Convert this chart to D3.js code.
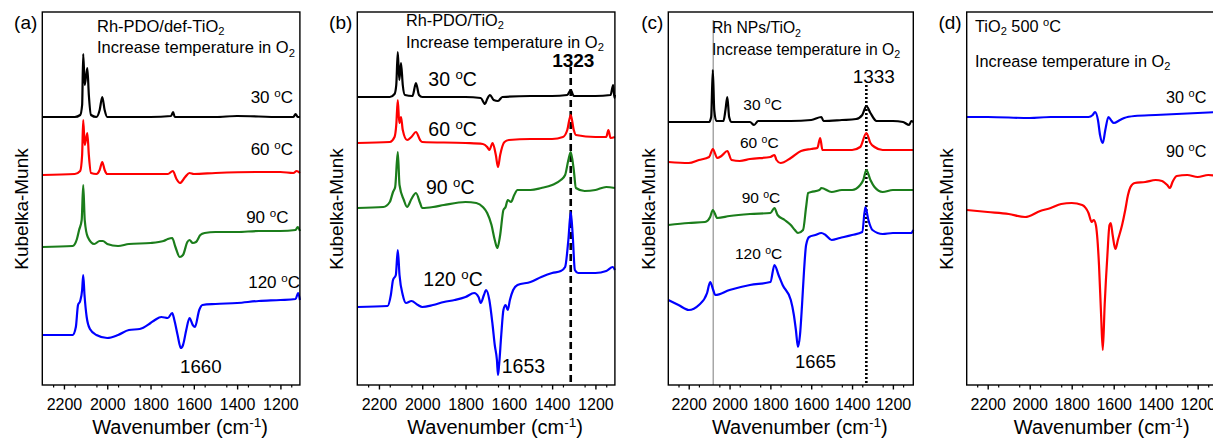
<!DOCTYPE html>
<html>
<head>
<meta charset="utf-8">
<script src="https://cdn.jsdelivr.net/npm/d3@7"></script>
<style>
  body { margin: 0; background: #fff; }
  svg { display: block; }
  text { font-family: Arial, "Liberation Sans", sans-serif; fill: #000; }
</style>
</head>
<body>
<div id="chart"></div>
<script>

// tick values (wavenumber, cm-1)
const majorTicks = [2200, 2000, 1800, 1600, 1400, 1200];
const minorTicks = [2250, 2150, 2050, 1950, 1850, 1750, 1650, 1550, 1450, 1350, 1250, 1150];

// spectra: [wavenumber, Kubelka-Munk (a.u., stacked)]
// (a) Rh-PDO/def-TiO2
const a30 = [[2300,268],[2150,268],[2125,270],[2116,280],[2111,331],[2104,300],[2092,317],[2085,290],[2075,270],[2050,268],[2035,275],[2023,288],[2012,275],[2000,268],[1800,268],[1705,269],[1696,273],[1688,268],[1500,268],[1400,269],[1200,268],[1140,268],[1130,271],[1120,268],[1110,268]];
const a60 = [[2300,210],[2150,211],[2125,214],[2116,230],[2111,265],[2104,240],[2092,252],[2085,230],[2075,212],[2050,211],[2035,215],[2023,223],[2012,215],[2000,211],[1800,211],[1720,211],[1697,214],[1680,206],[1664,202],[1640,208],[1620,212],[1600,211],[1500,212],[1300,213],[1200,213],[1140,212],[1125,214],[1110,212]];
const a90 = [[2300,138],[2160,139],[2140,146],[2130,155],[2118,165],[2111,200],[2104,165],[2090,148],[2060,141],[2035,144],[2020,144],[2000,141],[1950,139],[1900,141],[1800,142],[1740,144],[1720,146],[1700,147],[1685,138],[1665,128],[1650,130],[1630,143],[1620,145],[1605,142],[1590,143],[1570,150],[1550,152],[1500,153],[1400,153],[1300,154],[1200,154],[1130,155],[1120,158],[1110,154]];
const a120 = [[2300,50],[2160,50],[2145,58],[2135,80],[2125,84],[2116,95],[2111,110],[2105,90],[2095,68],[2080,56],[2050,50],[2000,47],[1950,50],[1900,55],[1850,56],[1800,62],[1780,65],[1750,68],[1720,67],[1700,72],[1690,65],[1675,50],[1660,37],[1650,40],[1635,55],[1620,67],[1605,60],[1595,58],[1575,75],[1560,80],[1500,81],[1400,82],[1300,84],[1200,85],[1130,86],[1118,92],[1110,85]];

// (b) Rh-PDO/TiO2
const b30 = [[2300,288],[2150,288],[2128,291],[2120,300],[2113,333],[2106,305],[2098,322],[2090,300],[2080,290],[2045,289],[2029,302],[2015,290],[2000,288],[1800,288],[1730,287],[1710,281],[1700,286],[1687,290],[1670,285],[1650,284],[1630,288],[1500,289],[1400,289],[1330,290],[1314,295],[1300,289],[1200,289],[1130,290],[1118,300],[1112,287],[1110,290]];
const b60 = [[2300,242],[2150,243],[2128,248],[2120,260],[2113,285],[2106,262],[2098,268],[2090,255],[2070,245],[2050,248],[2029,253],[2010,245],[2000,243],[1800,242],[1720,241],[1700,238],[1690,235],[1675,242],[1660,230],[1650,218],[1640,230],[1620,243],[1600,245],[1500,246],[1400,246],[1350,248],[1330,255],[1314,270],[1300,255],[1290,250],[1200,248],[1150,248],[1140,255],[1130,247],[1110,248]];
const b90 = [[2300,177],[2180,178],[2150,183],[2135,193],[2125,198],[2113,233],[2105,200],[2085,185],[2070,178],[2050,186],[2029,192],[2010,182],[2000,177],[1950,178],[1900,180],[1800,183],[1750,182],[1720,178],[1700,172],[1680,160],[1665,145],[1653,137],[1640,150],[1625,175],[1615,178],[1605,185],[1590,183],[1575,190],[1560,195],[1500,195],[1450,197],[1400,200],[1360,205],[1340,210],[1325,225],[1314,233],[1300,215],[1290,197],[1250,194],[1200,195],[1150,198],[1110,197]];
const b120 = [[2300,78],[2160,79],[2145,90],[2135,105],[2122,110],[2113,135],[2105,110],[2090,90],[2075,82],[2050,84],[2020,80],[2000,78],[1950,80],[1900,83],[1850,85],[1800,88],[1760,92],[1740,88],[1730,82],[1715,90],[1705,95],[1690,85],[1675,60],[1665,40],[1655,25],[1650,10],[1645,20],[1635,50],[1625,75],[1615,80],[1605,75],[1595,85],[1580,95],[1560,100],[1500,103],[1450,108],[1400,112],[1360,114],[1340,118],[1325,145],[1314,173],[1305,150],[1295,115],[1280,112],[1200,112],[1150,114],[1120,118],[1110,115]];

// (c) Rh NPs/TiO2
const c30 = [[2300,263],[2100,263],[2090,268],[2082,315],[2075,275],[2065,264],[2030,264],[2020,275],[2011,288],[2002,268],[1990,263],[1900,263],[1880,260],[1860,264],[1700,264],[1600,265],[1550,268],[1540,264],[1450,265],[1380,266],[1350,270],[1330,279],[1310,272],[1280,264],[1200,264],[1150,263],[1120,260],[1110,264],[1100,263]];
const c60 = [[2300,223],[2200,222],[2150,225],[2100,228],[2082,236],[2060,227],[2040,229],[2011,234],[1990,225],[1950,224],[1900,226],[1800,228],[1780,230],[1770,225],[1750,222],[1700,227],[1650,234],[1600,236],[1570,237],[1556,247],[1545,235],[1500,235],[1400,235],[1360,238],[1330,252],[1310,242],[1290,238],[1250,235],[1200,235],[1100,235]];
const c90 = [[2300,160],[2200,162],[2120,163],[2095,168],[2082,175],[2060,167],[2000,169],[1900,171],[1800,172],[1780,177],[1765,170],[1730,165],[1700,160],[1680,155],[1665,152],[1640,155],[1625,178],[1615,192],[1600,193],[1560,195],[1550,197],[1500,193],[1450,195],[1400,195],[1360,200],[1345,205],[1330,215],[1310,205],[1290,198],[1250,193],[1200,195],[1100,195]];
const c120 = [[2300,85],[2250,80],[2200,75],[2150,80],[2110,92],[2095,103],[2080,95],[2070,90],[2000,95],[1900,100],[1800,103],[1780,120],[1760,110],[1740,100],[1700,85],[1685,70],[1675,55],[1665,38],[1655,50],[1645,80],[1635,115],[1625,140],[1610,148],[1580,150],[1550,152],[1530,150],[1500,145],[1460,147],[1400,150],[1350,153],[1335,178],[1320,165],[1300,155],[1250,151],[1200,152],[1110,152],[1100,155]];

// (d) TiO2 500 oC
const d30 = [[2300,268],[2200,268],[2000,267],[1900,268],[1800,268],[1720,268],[1700,270],[1689,273],[1675,265],[1665,250],[1652,242],[1640,255],[1625,268],[1610,264],[1600,262],[1570,265],[1550,267],[1500,269],[1400,270],[1300,271],[1200,272],[1100,273]];
const d90 = [[2300,175],[2200,173],[2100,171],[2022,168],[1950,174],[1900,177],[1850,181],[1800,182],[1750,180],[1720,172],[1705,163],[1695,165],[1685,160],[1670,120],[1660,70],[1652,35],[1643,80],[1630,130],[1620,160],[1614,162],[1605,150],[1592,136],[1580,145],[1560,160],[1545,175],[1532,190],[1520,198],[1500,202],[1450,203],[1400,205],[1370,204],[1345,200],[1332,197],[1320,203],[1300,209],[1250,210],[1200,208],[1150,210],[1100,209]];

// marked band positions
const bMark = [1314];
const cMarks = [2080, 1330];

const W = 1213, H = 438;
const plotTop = 12, plotBottom = 385;
const colors = { k: '#000000', r: '#ff0000', g: '#1b7d1b', b: '#0000ff' };

const svg = d3.select('#chart').append('svg')
  .attr('width', W).attr('height', H);

const y = d3.scaleLinear().domain([0, 373]).range([plotBottom, plotTop]);

// text with sub/superscripts: parts = [[string, 'n'|'sup'|'sub'], ...]
const rich = (g, x, yy, parts, size, anchor, weight) => {
  const t = g.append('text')
    .attr('x', x).attr('y', yy)
    .attr('font-size', size)
    .attr('text-anchor', anchor || 'start')
    .attr('font-weight', weight || 'normal');
  let shift = 0;
  parts.forEach(([s, k]) => {
    const target = k === 'sup' ? -0.36 * size : k === 'sub' ? 0.22 * size : 0;
    t.append('tspan')
      .attr('dy', target - shift)
      .attr('font-size', k === 'n' ? size : size * 0.68)
      .text(s);
    shift = target;
  });
  return t;
};
const deg = (v) => [[v + ' ', 'n'], ['o', 'sup'], ['C', 'n']];
const incr = [['Increase temperature in O', 'n'], ['2', 'sub']];

const panels = [
  { letter: '(a)', x0: 42.3, x1: 299.9, dom: [2300, 1110], yl: 28,
    series: [[a30, 'k'], [a60, 'r'], [a90, 'g'], [a120, 'b']],
    texts: [
      { x: 97, y: 31.7, s: 16.5, p: [['Rh-PDO/def-TiO', 'n'], ['2', 'sub']] },
      { x: 97, y: 53.3, s: 16.5, p: incr },
      { x: 293, y: 103.3, s: 17, p: deg('30'), a: 'end' },
      { x: 293, y: 155, s: 17, p: deg('60'), a: 'end' },
      { x: 288.5, y: 222.7, s: 17, p: deg('90'), a: 'end' },
      { x: 300, y: 288.3, s: 17, p: deg('120'), a: 'end' },
      { x: 200.8, y: 373.3, s: 18.7, p: [['1660', 'n']], a: 'middle' }
    ] },
  { letter: '(b)', x0: 357.3, x1: 614.9, dom: [2300, 1110], yl: 343,
    series: [[b30, 'k'], [b60, 'r'], [b90, 'g'], [b120, 'b']],
    texts: [
      { x: 406, y: 25.5, s: 16.3, p: [['Rh-PDO/TiO', 'n'], ['2', 'sub']] },
      { x: 406, y: 47.5, s: 16.5, p: incr },
      { x: 428.3, y: 86, s: 19.5, p: deg('30') },
      { x: 428.3, y: 136, s: 19.5, p: deg('60') },
      { x: 426, y: 194.3, s: 19.5, p: deg('90') },
      { x: 423.3, y: 286, s: 19.5, p: deg('120') },
      { x: 501.7, y: 373.3, s: 19.5, p: [['1653', 'n']] },
      { x: 573.3, y: 66.5, s: 19, p: [['1323', 'n']], a: 'middle', w: 'bold' }
    ] },
  { letter: '(c)', x0: 668.3, x1: 913.3, dom: [2300, 1100], yl: 655,
    series: [[c30, 'k'], [c60, 'r'], [c90, 'g'], [c120, 'b']],
    texts: [
      { x: 712, y: 33.3, s: 15.7, p: [['Rh NPs/TiO', 'n'], ['2', 'sub']] },
      { x: 712, y: 55, s: 15.7, p: incr },
      { x: 743.3, y: 110, s: 15.5, p: deg('30') },
      { x: 740, y: 148.3, s: 15.5, p: deg('60') },
      { x: 741.7, y: 203.3, s: 15.5, p: deg('90') },
      { x: 735, y: 259.3, s: 15.5, p: deg('120') },
      { x: 815.5, y: 368.3, s: 18.4, p: [['1665', 'n']], a: 'middle' },
      { x: 873.8, y: 83.3, s: 19, p: [['1333', 'n']], a: 'middle' }
    ] },
  { letter: '(d)', x0: 966.7, x1: 1218.7, dom: [2300, 1100], yl: 953,
    series: [[d30, 'b'], [d90, 'r']],
    texts: [
      { x: 975, y: 31.7, s: 16.3, p: [['TiO', 'n'], ['2', 'sub'], [' 500 ', 'n'], ['o', 'sup'], ['C', 'n']] },
      { x: 975, y: 66.7, s: 16.3, p: incr },
      { x: 1166, y: 102.7, s: 16.2, p: deg('30') },
      { x: 1166, y: 157.3, s: 16.2, p: deg('90') }
    ] }
];

panels.forEach((p) => {
  const g = svg.append('g');
  const x = d3.scaleLinear().domain(p.dom).range([p.x0, p.x1]);

  // reference lines
  if (p.letter === '(b)') {
    bMark.forEach((w) => {
      g.append('line')
        .attr('x1', x(w)).attr('x2', x(w))
        .attr('y1', y(318)).attr('y2', plotBottom)
        .attr('stroke', '#000').attr('stroke-width', 2.6)
        .attr('stroke-dasharray', '7,4');
    });
  }
  if (p.letter === '(c)') {
    g.append('line')
      .attr('x1', x(cMarks[0])).attr('x2', x(cMarks[0]))
      .attr('y1', y(365)).attr('y2', plotBottom)
      .attr('stroke', '#9a9a9a').attr('stroke-width', 1.3);
    g.append('line')
      .attr('x1', x(cMarks[1])).attr('x2', x(cMarks[1]))
      .attr('y1', y(300)).attr('y2', plotBottom)
      .attr('stroke', '#000').attr('stroke-width', 2.6)
      .attr('stroke-dasharray', '2,2');
  }

  const line = d3.line()
    .x((d) => x(d[0]))
    .y((d) => y(d[1]))
    .curve(d3.curveMonotoneX);

  p.series.forEach(([data, c]) => {
    g.append('path')
      .datum(data)
      .attr('d', line)
      .attr('fill', 'none')
      .attr('stroke', colors[c])
      .attr('stroke-width', 2.2)
      .attr('stroke-linejoin', 'round');
  });

  // frame
  g.append('rect')
    .attr('x', p.x0).attr('y', plotTop)
    .attr('width', p.x1 - p.x0).attr('height', plotBottom - plotTop)
    .attr('fill', 'none')
    .attr('stroke', '#000').attr('stroke-width', 1.4);

  // axes
  const major = g.append('g')
    .attr('transform', `translate(0,${plotBottom})`)
    .call(d3.axisBottom(x).tickValues(majorTicks).tickFormat(d3.format('d'))
      .tickSize(4.5).tickPadding(9));
  major.select('.domain').remove();
  major.selectAll('line').attr('stroke-width', 1.4);
  major.selectAll('text')
    .attr('font-size', 16)
    .attr('font-family', 'Arial, "Liberation Sans", sans-serif');

  const minor = g.append('g')
    .attr('transform', `translate(0,${plotBottom})`)
    .call(d3.axisBottom(x).tickValues(minorTicks).tickSize(2.5).tickFormat(''));
  minor.select('.domain').remove();
  minor.selectAll('line').attr('stroke-width', 1.2);

  // axis titles
  rich(g, (p.x0 + p.x1) / 2 + 9, 434, [['Wavenumber (cm', 'n'], ['-1', 'sup'], [')', 'n']], 20, 'middle');
  g.append('text')
    .attr('transform', `translate(${p.yl},209) rotate(-90)`)
    .attr('text-anchor', 'middle')
    .attr('font-size', 19)
    .text('Kubelka-Munk');

  g.append('text')
    .attr('x', p.x0 - 5).attr('y', 29)
    .attr('text-anchor', 'end')
    .attr('font-size', 19)
    .text(p.letter);

  p.texts.forEach((t) => rich(g, t.x, t.y, t.p, t.s, t.a, t.w));
});
</script>
</body>
</html>
